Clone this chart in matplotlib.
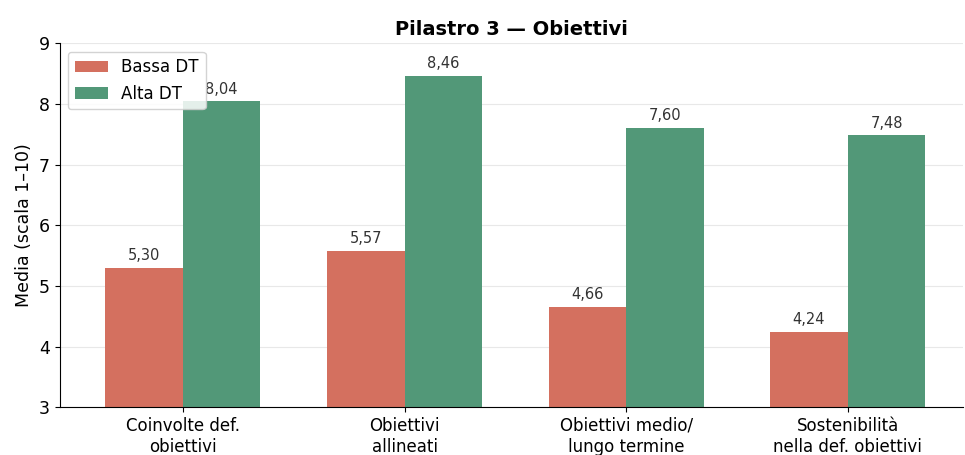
import matplotlib
matplotlib.use("Agg")
import matplotlib.pyplot as plt
import numpy as np

categories = ["Coinvolte def.\nobiettivi", "Obiettivi\nallineati",
              "Obiettivi medio/\nlungo termine", "Sostenibilità\nnella def. obiettivi"]
bassa_dt = [5.30, 5.57, 4.66, 4.24]
alta_dt = [8.04, 8.46, 7.60, 7.48]
series_names = ["Bassa DT", "Alta DT"]

RED = "#d4705f"
GREEN = "#529878"

fig, ax = plt.subplots(figsize=(9.65, 4.55), dpi=100)
fig.subplots_adjust(left=0.062, right=0.998, top=0.905, bottom=0.105)

x = np.arange(len(categories))
w = 0.35
b1 = ax.bar(x - w / 2, bassa_dt, w, color=RED, label=series_names[0], zorder=2)
b2 = ax.bar(x + w / 2, alta_dt, w, color=GREEN, label=series_names[1], zorder=2)

for bars, vals in ((b1, bassa_dt), (b2, alta_dt)):
    for rect, v in zip(bars, vals):
        ax.text(rect.get_x() + rect.get_width() / 2, v + 0.08,
                f"{v:.2f}".replace(".", ","), ha="center", va="bottom",
                fontsize=10.5, color="#333333", zorder=1)

ax.set_ylim(3, 9)
ax.set_xlim(-0.555, 3.52)
ax.set_yticks(range(3, 10))
ax.set_xticks(x)
ax.set_xticklabels(categories, fontsize=12)
ax.tick_params(axis="y", labelsize=12.5)
ax.set_ylabel("Media (scala 1–10)", fontsize=12.5)
ax.set_title("Pilastro 3 — Obiettivi", fontsize=14, fontweight="bold")
ax.yaxis.grid(True, color="#e8e8e8", linewidth=0.8, zorder=0)
ax.set_axisbelow(True)
for s in ("top", "right"):
    ax.spines[s].set_visible(False)

leg = ax.legend(loc="upper left", fontsize=12, framealpha=0.85,
                borderaxespad=0.5)
leg.set_zorder(5)

fig.savefig("out.png", dpi=100)
